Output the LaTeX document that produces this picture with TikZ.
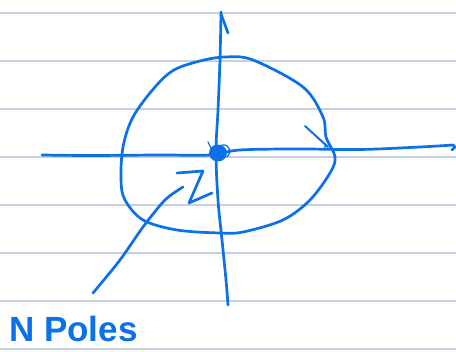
\documentclass[tikz,border=0pt]{standalone}
\usepackage{fontspec}
\newfontfamily\handfont{Liberation Sans}
\definecolor{ink}{RGB}{12,112,232}
\definecolor{rule}{RGB}{200,209,223}
\begin{document}
\begin{tikzpicture}[x=1pt,y=-1pt,
  pen/.style={draw=ink,line width=2.7pt,line cap=round,line join=round},
  paperline/.style={draw=rule,line width=1.8pt}]
\useasboundingbox (0,0) rectangle (456,352);
\fill[white] (0,0) rectangle (456,352);
% ruled paper
\foreach \yy in {13,61,109,157,205,253,301,349}
  \draw[paperline] (0,\yy) -- (456,\yy);
% horizontal axis
\draw[pen] plot[smooth,tension=0.6] coordinates {(42,155) (90,155.5) (160,155) (210,155) (240,150) (300,149) (360,149.5) (420,147) (453,145)};
\draw[pen] (453,145) -- (455,147) -- (452,150);
% vertical axis
\draw[pen] plot[smooth,tension=0.6] coordinates {(221,12) (220,60) (218,110) (216,152) (218,200) (222,240) (226,280) (228,305)};
\draw[pen] (221,14) -- (228,33);
% circle
\draw[pen] plot[smooth cycle,tension=0.55] coordinates {(174,70) (200,61) (225,57) (253,60) (303,87) (323,117) (326,137) (335,157) (330,173) (310,200) (283,220) (243,232) (220,233) (177,230) (143,220) (125,200) (121,180) (123,147) (133,117) (155,87)};
% tick on right
\draw[pen,line width=2pt] (305,126) -- (328,147);
\draw[pen,line width=1.2pt] (328,147) -- (325,144) -- (325,148);
% center blob
\fill[ink] (218,153) ellipse (9 and 8.5);
\draw[pen,line width=1.3pt] (208,142) -- (212,150);
\draw[pen,line width=1.3pt] (222,145) .. controls (230,144) and (232,152) .. (227,157);
% Z mark
\draw[pen] (177,173) -- (203,171) -- (189,203) -- (212,193);
% pointer line
\draw[pen] plot[smooth,tension=0.5] coordinates {(93,293) (120,260) (143,227) (165,200) (183,187)};
% label
\node[anchor=base west,inner sep=0pt,text=ink,font=\handfont\bfseries\fontsize{35}{35}\selectfont] (lbl) at (9,342) {N Poles};
\end{tikzpicture}
\end{document}
